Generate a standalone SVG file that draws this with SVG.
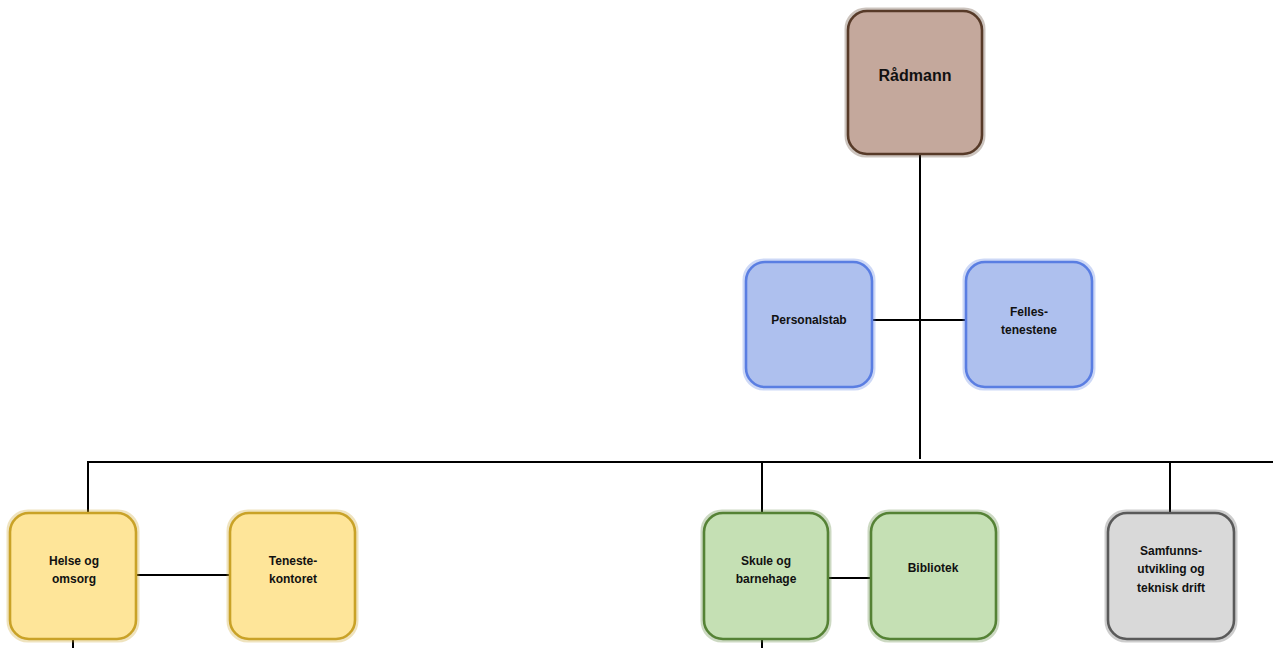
<svg xmlns="http://www.w3.org/2000/svg" width="1273" height="648" viewBox="0 0 1273 648">
<style>
.halo{fill:none;stroke-width:3;stroke-opacity:0.3}
.box{stroke-width:2.6}
.brown{fill:#c4a89c;stroke:#573a28}
.blue{fill:#aec0ee;stroke:#5a7ee2}
.yellow{fill:#fee599;stroke:#c9a227}
.green{fill:#c5e0b4;stroke:#558235}
.gray{fill:#d9d9d9;stroke:#5a5a5a}
.t{font-family:"Liberation Sans",Arial,sans-serif;font-weight:bold;font-size:12px;fill:#111;text-anchor:middle}
.tb{font-family:"Liberation Sans",Arial,sans-serif;font-weight:bold;font-size:16px;fill:#111;text-anchor:middle}
.c{stroke:#000;stroke-width:2;fill:none}
</style>
<rect width="1273" height="648" fill="#fff"/>
<g id="connectors">
<line class="c" x1="920" y1="155" x2="920" y2="459"/>
<line class="c" x1="873" y1="320" x2="965" y2="320"/>
<line class="c" x1="88" y1="462" x2="1273" y2="462"/>
<line class="c" x1="88" y1="461" x2="88" y2="512"/>
<line class="c" x1="137" y1="575" x2="229" y2="575"/>
<line class="c" x1="73" y1="640" x2="73" y2="648"/>
<line class="c" x1="762" y1="462" x2="762" y2="512"/>
<line class="c" x1="829" y1="578" x2="870" y2="578"/>
<line class="c" x1="762" y1="640" x2="762" y2="648"/>
<line class="c" x1="1170" y1="462" x2="1170" y2="512"/>
</g>
<g id="radmann">
<rect class="halo" x="846" y="9" width="138" height="147" rx="20" stroke="#573a28"/>
<rect class="box brown" x="848" y="11" width="134" height="143" rx="19"/>
<text class="tb" x="915" y="81">Rådmann</text>
</g>
<g id="personalstab">
<rect class="halo" x="744" y="260" width="130" height="129" rx="20" stroke="#5a7ee2"/>
<rect class="box blue" x="746" y="262" width="126" height="125" rx="19"/>
<text class="t" x="809" y="324">Personalstab</text>
</g>
<g id="fellestenestene">
<rect class="halo" x="964" y="260" width="130" height="129" rx="20" stroke="#5a7ee2"/>
<rect class="box blue" x="966" y="262" width="126" height="125" rx="19"/>
<text class="t" x="1029" y="316">Felles-</text>
<text class="t" x="1029" y="334">tenestene</text>
</g>
<g id="helse">
<rect class="halo" x="8" y="511" width="130" height="130" rx="20" stroke="#c9a227"/>
<rect class="box yellow" x="10" y="513" width="126" height="126" rx="19"/>
<text class="t" x="74" y="565">Helse og</text>
<text class="t" x="74" y="583">omsorg</text>
</g>
<g id="tenestekontoret">
<rect class="halo" x="228" y="511" width="129" height="130" rx="20" stroke="#c9a227"/>
<rect class="box yellow" x="230" y="513" width="125" height="126" rx="19"/>
<text class="t" x="293" y="565">Teneste-</text>
<text class="t" x="293" y="583">kontoret</text>
</g>
<g id="skule">
<rect class="halo" x="702" y="511" width="128" height="130" rx="20" stroke="#558235"/>
<rect class="box green" x="704" y="513" width="124" height="126" rx="19"/>
<text class="t" x="766" y="565">Skule og</text>
<text class="t" x="766" y="583">barnehage</text>
</g>
<g id="bibliotek">
<rect class="halo" x="869" y="511" width="129" height="130" rx="20" stroke="#558235"/>
<rect class="box green" x="871" y="513" width="125" height="126" rx="19"/>
<text class="t" x="933" y="572">Bibliotek</text>
</g>
<g id="samfunn">
<rect class="halo" x="1106" y="511" width="130" height="130" rx="20" stroke="#5a5a5a"/>
<rect class="box gray" x="1108" y="513" width="126" height="126" rx="19"/>
<text class="t" x="1171" y="555">Samfunns-</text>
<text class="t" x="1171" y="573">utvikling og</text>
<text class="t" x="1171" y="592">teknisk drift</text>
</g>
</svg>
